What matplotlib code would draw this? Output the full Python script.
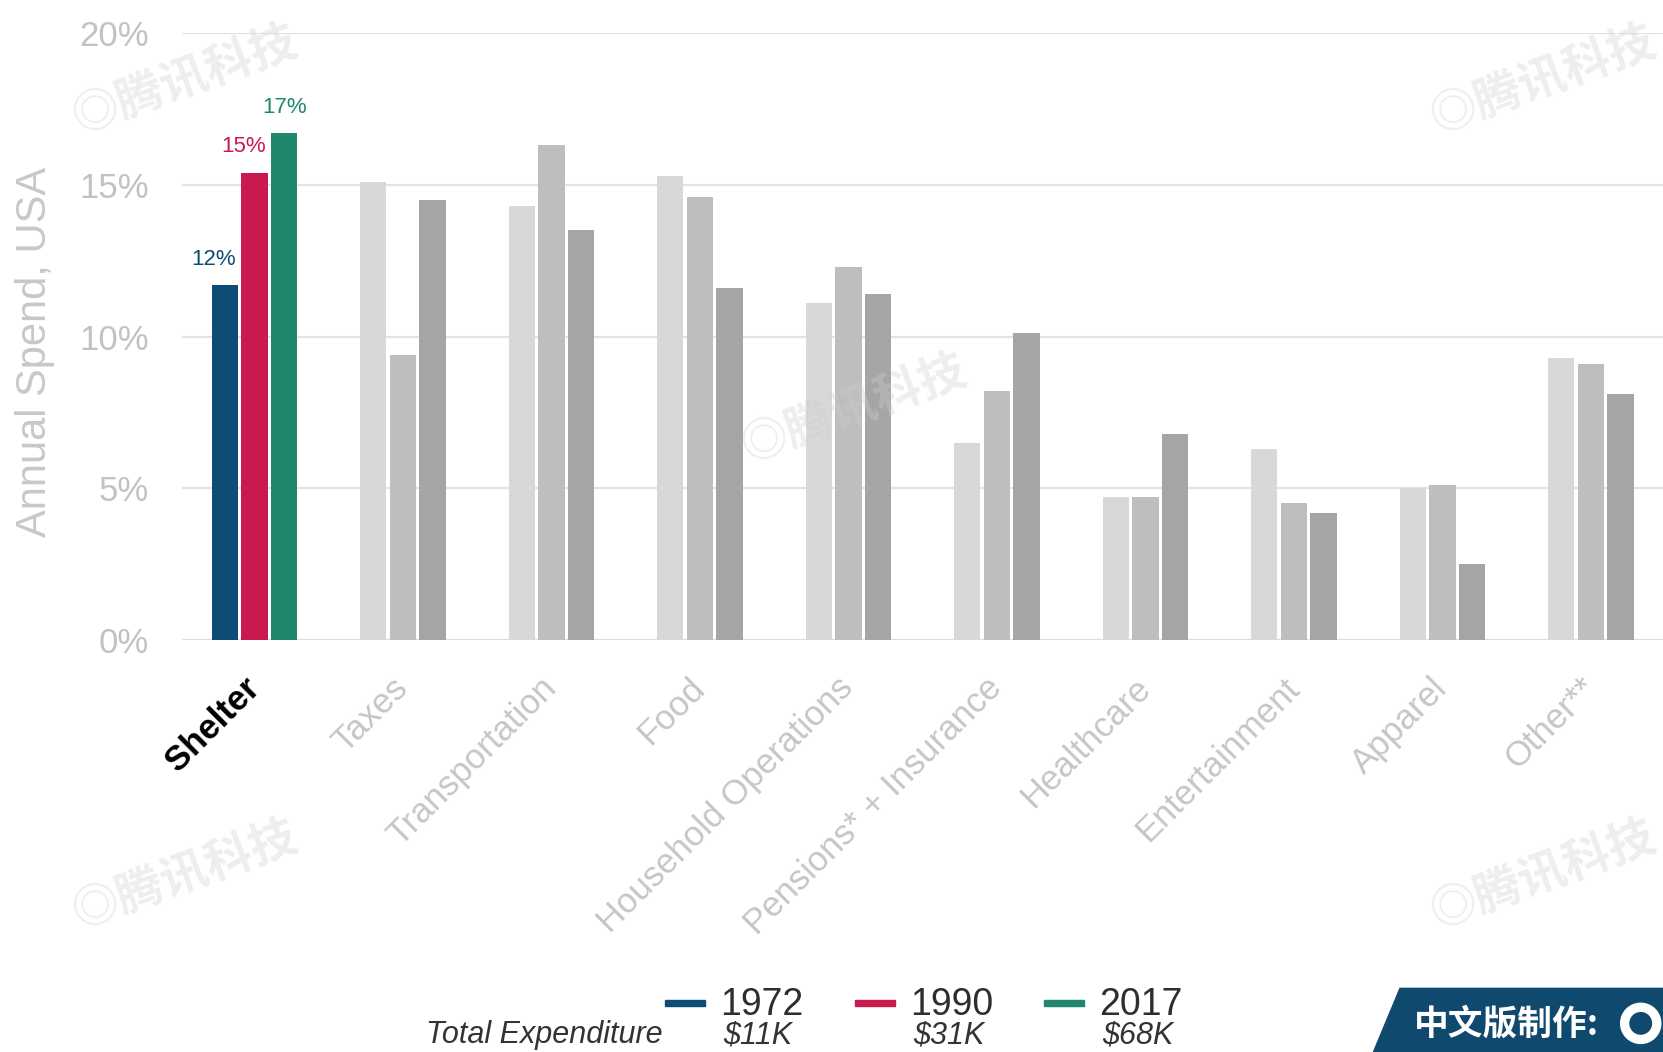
import matplotlib
matplotlib.use("Agg")
import matplotlib.pyplot as plt
import numpy as np
from matplotlib.patches import Polygon, Ellipse, Rectangle

categories = ['Shelter', 'Taxes', 'Transportation', 'Food', 'Household Operations',
              'Pensions* + Insurance', 'Healthcare', 'Entertainment', 'Apparel', 'Other**']
v1972 = [11.7, 15.1, 14.3, 15.3, 11.1, 6.5, 4.7, 6.3, 5.0, 9.3]
v1990 = [15.4, 9.4, 16.3, 14.6, 12.3, 8.2, 4.7, 4.5, 5.1, 9.1]
v2017 = [16.7, 14.5, 13.5, 11.6, 11.4, 10.1, 6.8, 4.2, 2.5, 8.1]
years = ['1972', '1990', '2017']
totals = ['$11K', '$31K', '$68K']
yticks = [0, 5, 10, 15, 20]

highlight_colors = ['#0d4d75', '#c81a4e', '#21876c']
grey_colors = ['#d8d8d8', '#bebebe', '#a5a5a5']
label_dx = [-8, -8, 0]  # points, horizontal nudges of the value labels

MAIN = ['Liberation Sans', 'DejaVu Sans']
CJK = ['Noto Sans CJK SC', 'DejaVu Sans']
plt.rcParams['font.family'] = MAIN

W, H = 1663, 1052
fig = plt.figure(figsize=(W / 100, H / 100), dpi=100)
ax = fig.add_axes([182 / W, 1 - 640 / H, (W - 182) / W, (640 - 33) / H])

series = [v1972, v1990, v2017]
x = np.arange(len(categories))
step = 0.2
width = 0.178
for i, vals in enumerate(series):
    cols = [highlight_colors[i] if j == 0 else grey_colors[i] for j in range(len(categories))]
    bars = ax.bar(x + (i - 1) * step, vals, width=width, color=cols, zorder=3)
    r = bars[0]
    ax.annotate(f"{round(vals[0])}%", (r.get_x() + r.get_width() / 2, r.get_height()),
                xytext=(label_dx[i], 11), textcoords='offset points', ha='center', va='bottom',
                fontsize=16, color=highlight_colors[i], zorder=4)

ax.set_xlim(-0.488, 9.485)
ax.set_ylim(0, 20)
ax.set_yticks(yticks)
ax.set_yticklabels([f"{t}%" for t in yticks], fontsize=25, color='#c2c2c2')
ax.tick_params(axis='y', length=0, pad=24)
ax.grid(axis='y', color='#e3e3e3', linewidth=1.6, zorder=0)
for s in ax.spines.values():
    s.set_visible(False)
ax.axhline(0, color='#dcdcdc', linewidth=1.8, zorder=2)
ax.set_ylabel('Annual Spend, USA', fontsize=30, color='#c8c8c8', va='center')
ax.yaxis.set_label_coords(-0.0995, 0.474)

ax.set_xticks(x)
ax.set_xticklabels(categories, rotation=45, ha='right', va='center',
                   rotation_mode='anchor', fontsize=25, color='#c6c6c6')
ax.tick_params(axis='x', length=0, pad=31)
for j, lab in enumerate(ax.get_xticklabels()):
    if j == 0:
        lab.set_color('black')
        lab.set_fontweight('bold')

# Legend (custom)
dash_x = [0.400, 0.514, 0.628]
for i in range(3):
    fig.add_artist(Rectangle((dash_x[i], 0.0435), 0.024, 0.0058, transform=fig.transFigure,
                             color=highlight_colors[i]))
    fig.text(dash_x[i] + 0.033, 0.045, years[i], fontsize=27, color='#2e2e2e',
             ha='left', va='center')
    fig.text(dash_x[i] + 0.035, 0.016, totals[i], fontsize=22, color='#333333',
             style='italic', ha='left', va='center')
fig.text(0.3986, 0.016, 'Total Expenditure', fontsize=22, color='#333333',
         style='italic', ha='right', va='center')

# Badge bottom right
badge = Polygon([(1295 / 1568, 0), (1320 / 1568, 60 / 992), (1.0, 60 / 992), (1.0, 0)],
                closed=True, transform=fig.transFigure, color='#0f4a6e')
fig.add_artist(badge)
fig.text(1333 / 1568, 26 / 992, '中文版制作:', fontsize=25, color='white', family=CJK,
         ha='left', va='center', fontweight='bold')
cx, cy = 1547 / 1568, 27 / 992
rw = 0.0125
fig.add_artist(Ellipse((cx, cy), rw * 2, rw * 2 * W / H, transform=fig.transFigure,
                       facecolor='white', edgecolor='none'))
fig.add_artist(Ellipse((cx, cy), rw * 1.1, rw * 1.1 * W / H, transform=fig.transFigure,
                       facecolor='#0f4a6e', edgecolor='none'))

# Watermarks
wm = [(175, 75), (1455, 75), (805, 385), (175, 825), (1455, 825)]
for (px, py) in wm:
    fig.text(px / 1568, 1 - py / 992, '◎腾讯科技', fontsize=34, color='#cfcfcf', alpha=0.35,
             family=CJK, rotation=20, ha='center', va='center',
             fontweight='bold', zorder=10)

fig.savefig('out.png', dpi=100, facecolor='white')
